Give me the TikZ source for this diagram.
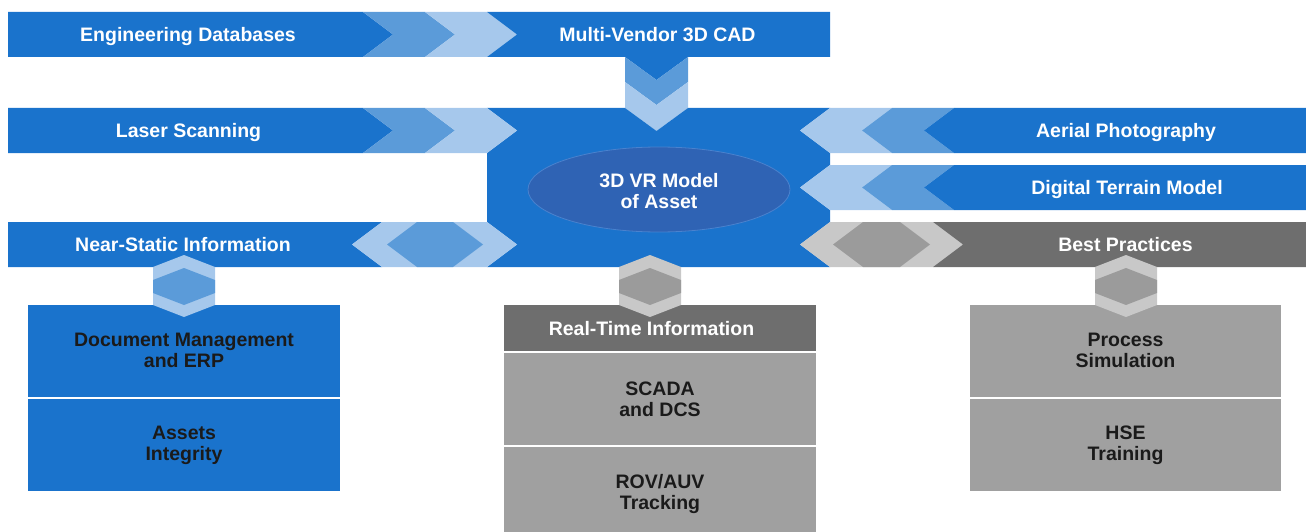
\documentclass[tikz,border=0pt]{standalone}
\usepackage{fontspec}
\setmainfont{Liberation Sans}
\usetikzlibrary{shapes.geometric}
\definecolor{dkblue}{HTML}{1A73CC}
\definecolor{mdblue}{HTML}{5B9BD9}
\definecolor{ltblue}{HTML}{A6C8EC}
\definecolor{ellblue}{HTML}{2F63B4}
\definecolor{elledge}{HTML}{4A82CE}
\definecolor{dkgrey}{HTML}{6E6E6E}
\definecolor{mdgrey}{HTML}{9B9B9B}
\definecolor{ltgrey}{HTML}{C8C8C8}
\definecolor{boxgrey}{HTML}{A0A0A0}
\definecolor{txtdark}{HTML}{1A1A1A}
% right-pointing chevron: #1 = left x at top, #2 = top y, #3 = colour
\newcommand\chevR[3]{\fill[#3] (#1,#2) -- ++(62,0) -- ++(30,22.5) -- ++(-30,22.5) -- ++(-62,0) -- ++(30,-22.5) -- cycle;}
% left-pointing chevron: #1 = left x at top, #2 = top y, #3 = colour
\newcommand\chevL[3]{\fill[#3] (#1,#2) -- ++(62,0) -- ++(-30,22.5) -- ++(30,22.5) -- ++(-62,0) -- ++(-30,-22.5) -- cycle;}
% vertical double hexagon: #1 = centre x, #2 = outer colour, #3 = inner colour
\newcommand\vhex[3]{%
  \fill[#2] (#1,255) -- ++(31,12) -- ++(0,38) -- ++(-31,12) -- ++(-31,-12) -- ++(0,-38) -- cycle;
  \fill[#3] (#1,268) -- ++(31,12) -- ++(0,13) -- ++(-31,12) -- ++(-31,-12) -- ++(0,-13) -- cycle;}
\begin{document}
\begin{tikzpicture}[x=1pt,y=-1pt,
  lbl/.style={text=white,font=\fontsize{19.5}{21}\selectfont\bfseries,align=center,inner sep=0pt},
  onelbl/.style={lbl,text height=14pt,text depth=0pt},
  boxlbl/.style={text=txtdark,font=\fontsize{19.5}{21}\selectfont\bfseries,align=center,inner sep=0pt},
  ellnode/.style={ellipse,fill=ellblue,draw=elledge,line width=0.8pt,minimum width=262pt,minimum height=85pt,inner sep=0pt}
]
\useasboundingbox (0,0) rectangle (1306,532);

% ---------- lower boxes ----------
\fill[dkblue] (28,305) rectangle (340,397);
\fill[dkblue] (28,399) rectangle (340,491);
\fill[dkgrey] (504,305) rectangle (816,351);
\fill[boxgrey] (504,353) rectangle (816,445);
\fill[boxgrey] (504,447) rectangle (816,539);
\fill[boxgrey] (970,305) rectangle (1281,397);
\fill[boxgrey] (970,399) rectangle (1281,491);

% ---------- top row ----------
\fill[dkblue] (8,12) -- (363,12) -- (393,34.5) -- (363,57) -- (8,57) -- cycle;
\chevR{363}{12}{mdblue}
\chevR{425}{12}{ltblue}
\fill[dkblue] (487,12) -- (830,12) -- (830,57) -- (688,57) -- (656.5,80) -- (625,57) -- (487,57) -- (517,34.5) -- cycle;
% downward chevrons
\fill[mdblue] (625,57) -- (656.5,80) -- (688,57) -- (688,82) -- (656.5,105) -- (625,82) -- cycle;
\fill[ltblue] (625,82) -- (656.5,105) -- (688,82) -- (688,108) -- (656.5,131) -- (625,108) -- cycle;

% ---------- central block ----------
\fill[dkblue] (487,108) -- (625,108) -- (656.5,131) -- (688,108) -- (830,108) -- (800,130.5) -- (830,153)
  -- (830,165) -- (800,187.5) -- (830,210) -- (830,222) -- (800,244.5) -- (830,267)
  -- (487,267) -- (517,244.5) -- (487,222) -- (487,153) -- (517,130.5) -- cycle;

% ---------- laser row ----------
\fill[dkblue] (8,108) -- (363,108) -- (393,130.5) -- (363,153) -- (8,153) -- cycle;
\chevR{363}{108}{mdblue}
\chevR{425}{108}{ltblue}

% ---------- aerial row ----------
\chevL{830}{108}{ltblue}
\chevL{892}{108}{mdblue}
\fill[dkblue] (954,108) -- (1306,108) -- (1306,153) -- (954,153) -- (924,130.5) -- cycle;

% ---------- digital terrain row ----------
\chevL{830}{165}{ltblue}
\chevL{892}{165}{mdblue}
\fill[dkblue] (954,165) -- (1306,165) -- (1306,210) -- (954,210) -- (924,187.5) -- cycle;

% ---------- near-static row ----------
\fill[dkblue] (8,222) -- (382,222) -- (352,244.5) -- (382,267) -- (8,267) -- cycle;
\fill[ltblue] (382,222) -- (487,222) -- (517,244.5) -- (487,267) -- (382,267) -- (352,244.5) -- cycle;
\fill[mdblue] (417,222) -- (453,222) -- (483,244.5) -- (453,267) -- (417,267) -- (387,244.5) -- cycle;

% ---------- best practices row ----------
\fill[ltgrey] (830,222) -- (933,222) -- (963,244.5) -- (933,267) -- (830,267) -- (800,244.5) -- cycle;
\fill[mdgrey] (863,222) -- (900,222) -- (930,244.5) -- (900,267) -- (863,267) -- (833,244.5) -- cycle;
\fill[dkgrey] (933,222) -- (1306,222) -- (1306,267) -- (933,267) -- (963,244.5) -- cycle;

% ---------- vertical links ----------
\vhex{184}{ltblue}{mdblue}
\vhex{650}{ltgrey}{mdgrey}
\vhex{1126}{ltgrey}{mdgrey}

% ---------- labels ----------
\node[onelbl] (eng) at (188,34.5) {Engineering Databases};
\node[onelbl] (cad) at (657.5,34.5) {Multi-Vendor 3D CAD};
\node[onelbl] (laser) at (188.5,130.5) {Laser Scanning};
\node[onelbl] (aerial) at (1126,130.5) {Aerial Photography};
\node[onelbl] (dtm) at (1127,187.5) {Digital Terrain Model};
\node[onelbl] (nsi) at (183,244.5) {Near-Static Information};
\node[onelbl] (bp) at (1125.5,244.5) {Best Practices};
\node[ellnode] (ell) at (659,189.5) {};
\node[lbl] (model) at ([yshift=-1.5pt]ell.center) {3D VR Model\\of Asset};
\node[onelbl] (rti) at (651.5,328) {Real-Time Information};
\node[boxlbl] (doc) at (184,350.5) {Document Management\\and ERP};
\node[boxlbl] (assets) at (184,445.5) {Assets\\Integrity};
\node[boxlbl] (scada) at (660,399) {SCADA\\and DCS};
\node[boxlbl] (rov) at (660,493.5) {ROV/AUV\\Tracking};
\node[boxlbl] (proc) at (1125.5,350) {Process\\Simulation};
\node[boxlbl] (hse) at (1125.5,445) {HSE\\Training};
\end{tikzpicture}
\end{document}
